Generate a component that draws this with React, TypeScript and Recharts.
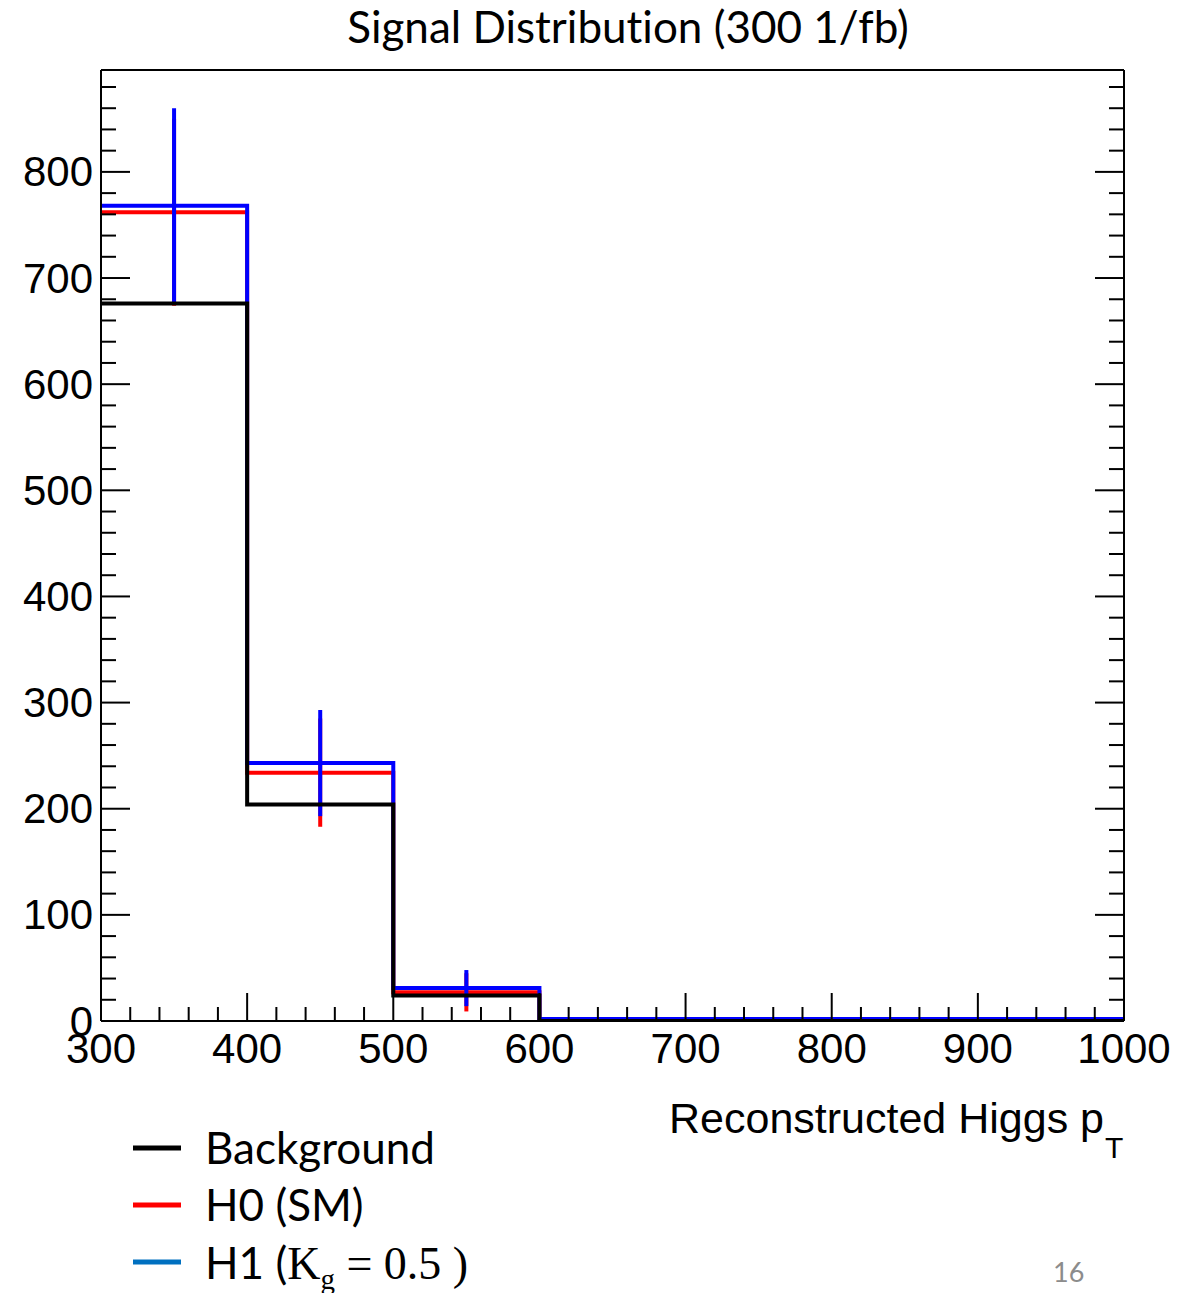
import React from 'react'
import { ComposedChart, Line, Scatter, ErrorBar, XAxis, YAxis, ReferenceLine } from 'recharts'

// bin edges of the pT histogram (GeV)
const binEdges = [300, 400, 500, 600, 700, 800, 900, 1000]
// events per bin
const background = [676, 204, 24, 0, 0, 0, 0]
const h0Sm = [762, 234, 27, 1, 1, 1, 1]
const h1Kg = [768, 243, 31, 2, 2, 2, 2]

// error bars at bin centres
const errCentres = [350, 450, 550]
const h0Err = [88, 51, 18]
const h1Err = [92, 50, 17]

const yMax = 896

const stepData = binEdges.map((x, i) => {
  const k = Math.min(i, background.length - 1)
  return { x, bg: background[k], h0: h0Sm[k], h1: h1Kg[k] }
})

const h0ErrData = errCentres.map((x, i) => ({ x, y: h0Sm[i], err: h0Err[i] }))
const h1ErrData = errCentres.map((x, i) => ({ x, y: h1Kg[i], err: h1Err[i] }))

const xTicks = Array.from({ length: 36 }, (_, i) => 300 + i * 20)
const yTicks = Array.from({ length: 45 }, (_, i) => i * 20)

const axisFont = '"Liberation Sans", Arial, sans-serif'
const slideFont = 'Lato, "Noto Sans", sans-serif'
const serifFont = '"Liberation Serif", "Times New Roman", serif'
const noLiga = { fontVariantLigatures: 'none' as const, fontFeatureSettings: '"liga" 0' }

const LeftTick = (props: any) => {
  const { x, y, payload } = props
  const major = payload.value % 100 === 0
  return (
    <g>
      <line x1={x} x2={x + (major ? 29 : 15)} y1={y} y2={y} stroke="#000" strokeWidth={2} />
      {major && (
        <text x={x - 8} y={y} textAnchor="end" dominantBaseline="central" fontFamily={axisFont} fontSize={42} fill="#000">
          {payload.value}
        </text>
      )}
    </g>
  )
}

const RightTick = (props: any) => {
  const { x, y, payload } = props
  const major = payload.value % 100 === 0
  return <line x1={x} x2={x - (major ? 29 : 15)} y1={y} y2={y} stroke="#000" strokeWidth={2} />
}

const BottomTick = (props: any) => {
  const { x, y, payload } = props
  const major = payload.value % 100 === 0
  return (
    <g>
      <line x1={x} x2={x} y1={y} y2={y - (major ? 28 : 14)} stroke="#000" strokeWidth={2} />
      {major && (
        <text x={x} y={y + 27} textAnchor="middle" dominantBaseline="central" fontFamily={axisFont} fontSize={42} fill="#000">
          {payload.value}
        </text>
      )}
    </g>
  )
}

const noDot = () => <g />

export default function App() {
  return (
    <div style={{ position: 'absolute', left: 0, top: 0, width: 1195, height: 1293, background: '#fff' }}>
      <ComposedChart width={1195} height={1293} data={stepData} margin={{ top: 70, right: 0, bottom: 0, left: 0 }}>
        <XAxis
          dataKey="x"
          type="number"
          domain={[300, 1000]}
          ticks={xTicks}
          interval={0}
          tick={<BottomTick />}
          tickLine={false}
          tickSize={0}
          tickMargin={0}
          height={272}
          axisLine={{ stroke: '#000', strokeWidth: 2 }}
          allowDataOverflow
        />
        <YAxis
          type="number"
          domain={[0, yMax]}
          ticks={yTicks}
          interval={0}
          tick={<LeftTick />}
          tickLine={false}
          tickSize={0}
          tickMargin={0}
          width={101}
          axisLine={{ stroke: '#000', strokeWidth: 2 }}
          allowDataOverflow
        />
        <YAxis
          yAxisId="right"
          orientation="right"
          type="number"
          domain={[0, yMax]}
          ticks={yTicks}
          interval={0}
          tick={<RightTick />}
          tickLine={false}
          tickSize={0}
          tickMargin={0}
          width={71}
          axisLine={{ stroke: '#000', strokeWidth: 2 }}
          allowDataOverflow
        />
        {/* top frame edge */}
        <ReferenceLine y={yMax} stroke="#000" strokeWidth={2} ifOverflow="visible" />

        <Line type="stepAfter" dataKey="h0" stroke="#ff0000" strokeWidth={4} dot={false} isAnimationActive={false} />
        <Scatter data={h0ErrData} dataKey="y" shape={noDot} isAnimationActive={false}>
          <ErrorBar dataKey="err" direction="y" width={0} stroke="#ff0000" strokeWidth={4} isAnimationActive={false} />
        </Scatter>
        <Line type="stepAfter" dataKey="h1" stroke="#0000ff" strokeWidth={4} dot={false} isAnimationActive={false} />
        <Scatter data={h1ErrData} dataKey="y" shape={noDot} isAnimationActive={false}>
          <ErrorBar dataKey="err" direction="y" width={0} stroke="#0000ff" strokeWidth={4} isAnimationActive={false} />
        </Scatter>
        <Line type="stepAfter" dataKey="bg" stroke="#000" strokeWidth={4} dot={false} isAnimationActive={false} />
      </ComposedChart>

      <svg width={1195} height={1293} style={{ position: 'absolute', left: 0, top: 0, pointerEvents: 'none' }}>
        <text x={628} y={43} textAnchor="middle" fontFamily={slideFont} fontSize={44} fill="#000" style={noLiga}>
          Signal Distribution (300 1/fb)
        </text>

        <text x={1104} y={1133} textAnchor="end" fontFamily={axisFont} fontSize={43} fill="#000">
          Reconstructed Higgs p
        </text>
        <text x={1105} y={1158} fontFamily={axisFont} fontSize={30} fill="#000">
          T
        </text>

        <line x1={133} x2={181} y1={1148} y2={1148} stroke="#000" strokeWidth={5} />
        <text x={205} y={1164} fontFamily={slideFont} fontSize={44} fill="#000" style={noLiga}>Background</text>
        <line x1={133} x2={181} y1={1205} y2={1205} stroke="#ff0000" strokeWidth={5} />
        <text x={205} y={1221} fontFamily={slideFont} fontSize={44} fill="#000" style={noLiga}>H0 (SM)</text>
        <line x1={133} x2={181} y1={1262} y2={1262} stroke="#0070c0" strokeWidth={5} />
        <text x={205} y={1279} fontFamily={slideFont} fontSize={44} fill="#000">
          H1 (
          <tspan fontFamily={serifFont} fontSize={46}>K</tspan>
          <tspan fontFamily={serifFont} fontSize={29} dy={10}>g</tspan>
          <tspan fontFamily={serifFont} fontSize={46} dy={-10}> = 0.5 )</tspan>
        </text>

        <text x={1053} y={1282} fontFamily={slideFont} fontSize={27} fill="#8c8c8c">16</text>
      </svg>
    </div>
  )
}
